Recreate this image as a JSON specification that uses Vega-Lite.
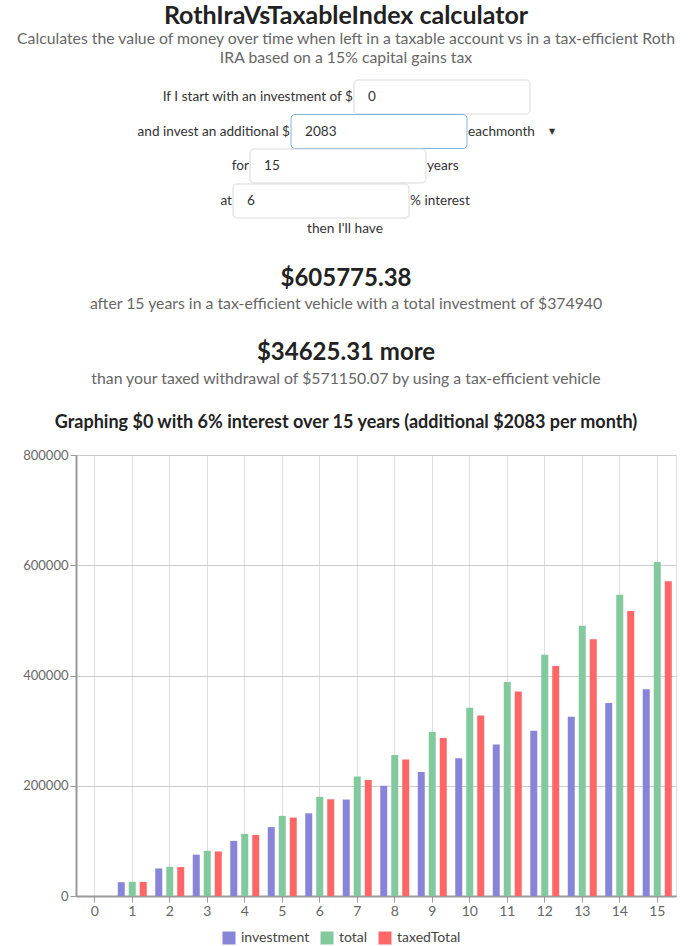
{
  "$schema": "https://vega.github.io/schema/vega-lite/v6.json",
  "width": 600,
  "height": 441,
  "autosize": "none",
  "padding": {"left": 76, "top": 455, "right": 15, "bottom": 50},
  "background": "white",
  "config": {"font": "Lato", "view": {"stroke": "#ddd"}},
  "datasets": {
    "bars": [
      {"year": 0, "series": "investment", "value": 0},
      {"year": 0, "series": "total", "value": 0},
      {"year": 0, "series": "taxedTotal", "value": 0},
      {"year": 1, "series": "investment", "value": 24996},
      {"year": 1, "series": "total", "value": 25694.97},
      {"year": 1, "series": "taxedTotal", "value": 25590.12},
      {"year": 2, "series": "investment", "value": 49992},
      {"year": 2, "series": "total", "value": 52974.77},
      {"year": 2, "series": "taxedTotal", "value": 52527.35},
      {"year": 3, "series": "investment", "value": 74988},
      {"year": 3, "series": "total", "value": 81937.10},
      {"year": 3, "series": "taxedTotal", "value": 80894.74},
      {"year": 4, "series": "investment", "value": 99984},
      {"year": 4, "series": "total", "value": 112685.79},
      {"year": 4, "series": "taxedTotal", "value": 110780.52},
      {"year": 5, "series": "investment", "value": 124980},
      {"year": 5, "series": "total", "value": 145330.99},
      {"year": 5, "series": "taxedTotal", "value": 142278.34},
      {"year": 6, "series": "investment", "value": 149976},
      {"year": 6, "series": "total", "value": 179989.65},
      {"year": 6, "series": "taxedTotal", "value": 175487.60},
      {"year": 7, "series": "investment", "value": 174972},
      {"year": 7, "series": "total", "value": 216785.99},
      {"year": 7, "series": "taxedTotal", "value": 210513.89},
      {"year": 8, "series": "investment", "value": 199968},
      {"year": 8, "series": "total", "value": 255851.85},
      {"year": 8, "series": "taxedTotal", "value": 247469.27},
      {"year": 9, "series": "investment", "value": 224964},
      {"year": 9, "series": "total", "value": 297327.21},
      {"year": 9, "series": "taxedTotal", "value": 286472.73},
      {"year": 10, "series": "investment", "value": 249960},
      {"year": 10, "series": "total", "value": 341360.67},
      {"year": 10, "series": "taxedTotal", "value": 327650.57},
      {"year": 11, "series": "investment", "value": 274956},
      {"year": 11, "series": "total", "value": 388110.02},
      {"year": 11, "series": "taxedTotal", "value": 371136.92},
      {"year": 12, "series": "investment", "value": 299952},
      {"year": 12, "series": "total", "value": 437742.78},
      {"year": 12, "series": "taxedTotal", "value": 417074.16},
      {"year": 13, "series": "investment", "value": 324948},
      {"year": 13, "series": "total", "value": 490436.77},
      {"year": 13, "series": "taxedTotal", "value": 465613.45},
      {"year": 14, "series": "investment", "value": 349944},
      {"year": 14, "series": "total", "value": 546380.86},
      {"year": 14, "series": "taxedTotal", "value": 516915.33},
      {"year": 15, "series": "investment", "value": 374940},
      {"year": 15, "series": "total", "value": 605775.38},
      {"year": 15, "series": "taxedTotal", "value": 571150.07}
    ],
    "header": [
      {"row": 1, "role": "title", "text": "RothIraVsTaxableIndex calculator"},
      {"row": 2, "role": "note", "text": "Calculates the value of money over time when left in a taxable account vs in a tax-efficient Roth"},
      {"row": 3, "role": "note", "text": "IRA based on a 15% capital gains tax"},
      {"row": 8, "role": "label", "text": "then I'll have"},
      {"row": 9, "role": "result", "text": "$605775.38"},
      {"row": 10, "role": "note", "text": "after 15 years in a tax-efficient vehicle with a total investment of $374940"},
      {"row": 11, "role": "result", "text": "$34625.31 more"},
      {"row": 12, "role": "note", "text": "than your taxed withdrawal of $571150.07 by using a tax-efficient vehicle"},
      {"row": 13, "role": "graph", "text": "Graphing $0 with 6% interest over 15 years (additional $2083 per month)"}
    ],
    "form": [
      {"row": 4, "label": "If I start with an investment of $", "value": "0", "unit": ""},
      {"row": 5, "label": "and invest an additional $", "value": "2083", "unit": "eachmonth", "caret": "▼"},
      {"row": 6, "label": "for", "value": "15", "unit": "years"},
      {"row": 7, "label": "at", "value": "6", "unit": "% interest"}
    ]
  },
  "layer": [
    {
      "data": {"name": "bars"},
      "mark": {"type": "bar"},
      "encoding": {
        "x": {
          "field": "year", "type": "ordinal",
          "scale": {"paddingInner": 0.227, "paddingOuter": 0.1135},
          "axis": {
            "title": null, "labelAngle": 0, "bandPosition": 0.5,
            "grid": true, "gridColor": "#ddd", "gridWidth": 1,
            "domainColor": "#999", "domainWidth": 2,
            "tickColor": "#999", "tickSize": 6,
            "labelColor": "#666", "labelFontSize": 14, "labelPadding": 2
          }
        },
        "xOffset": {
          "field": "series", "type": "nominal",
          "sort": ["investment", "total", "taxedTotal"],
          "scale": {"paddingInner": 0.364, "paddingOuter": 0}
        },
        "y": {
          "field": "value", "type": "quantitative",
          "scale": {"domain": [0, 800000], "nice": false},
          "axis": {
            "title": null, "values": [0, 200000, 400000, 600000, 800000], "format": "d",
            "grid": true, "gridColor": "#ccc", "gridWidth": 1,
            "domainColor": "#999", "domainWidth": 2,
            "tickColor": "#999", "tickSize": 6,
            "labelColor": "#666", "labelFontSize": 13, "labelPadding": 2
          }
        },
        "color": {
          "field": "series", "type": "nominal",
          "sort": ["investment", "total", "taxedTotal"],
          "scale": {"domain": ["investment", "total", "taxedTotal"], "range": ["#8884d8", "#82ca9d", "#ff6666"]},
          "legend": {
            "title": null, "orient": "none", "direction": "horizontal",
            "legendX": 146, "legendY": 476,
            "symbolType": "square", "symbolSize": 169, "symbolStrokeWidth": 0,
            "labelFontSize": 14, "labelColor": "#444", "labelOffset": 5, "columnPadding": 10
          }
        }
      }
    },
    {
      "data": {"name": "header"},
      "encoding": {
        "x": {"field": "row", "type": "quantitative", "axis": null,
          "scale": {"domain": [1,2,3,4,5,6,7,8,9,10,11,12,13], "range": [270,270,270,366,303,262,245,269,270,270,270,270,270]}},
        "y": {"field": "row", "type": "quantitative", "axis": null,
          "scale": {"domain": [1,2,3,4,5,6,7,8,9,10,11,12,13], "range": [-439,-416,-397,-358,-323.5,-289,-254,-226,-176,-151,-102,-76,-32]}}
      },
      "layer": [
        {"transform": [{"filter": "datum.role === 'title'"}],
         "mark": {"type": "text", "font": "Lato", "fontSize": 25, "fontWeight": "bold", "fill": "#222"},
         "encoding": {"text": {"field": "text"}}},
        {"transform": [{"filter": "datum.role === 'note'"}],
         "mark": {"type": "text", "font": "Lato", "fontSize": 15.8, "fill": "#666"},
         "encoding": {"text": {"field": "text"}}},
        {"transform": [{"filter": "datum.role === 'label'"}],
         "mark": {"type": "text", "font": "Lato", "fontSize": 13.7, "fill": "#333"},
         "encoding": {"text": {"field": "text"}}},
        {"transform": [{"filter": "datum.role === 'result'"}],
         "mark": {"type": "text", "font": "Lato", "fontSize": 24, "fontWeight": "bold", "fill": "#222"},
         "encoding": {"text": {"field": "text"}}},
        {"transform": [{"filter": "datum.role === 'graph'"}],
         "mark": {"type": "text", "font": "Lato", "fontSize": 18, "fontWeight": "bold", "fill": "#222"},
         "encoding": {"text": {"field": "text"}}}
      ]
    },
    {
      "data": {"name": "form"},
      "encoding": {
        "x": {"field": "row", "type": "quantitative", "axis": null,
          "scale": {"domain": [1,2,3,4,5,6,7,8,9,10,11,12,13], "range": [270,270,270,366,303,262,245,269,270,270,270,270,270]}},
        "y": {"field": "row", "type": "quantitative", "axis": null,
          "scale": {"domain": [1,2,3,4,5,6,7,8,9,10,11,12,13], "range": [-439,-416,-397,-358,-323.5,-289,-254,-226,-176,-151,-102,-76,-32]}}
      },
      "layer": [
        {"mark": {"type": "rect", "width": 176, "height": 34, "cornerRadius": 4, "fill": "white", "strokeWidth": 1},
         "encoding": {"stroke": {"condition": {"test": "datum.row === 5", "value": "#80b3dd"}, "value": "#d9d9d9"}}},
        {"mark": {"type": "text", "font": "Lato", "fontSize": 13.6, "fill": "#333", "align": "right", "dx": -89},
         "encoding": {"text": {"field": "label"}}},
        {"mark": {"type": "text", "font": "Lato", "fontSize": 13.6, "fill": "#333", "align": "left", "dx": -74},
         "encoding": {"text": {"field": "value"}}},
        {"mark": {"type": "text", "font": "Lato", "fontSize": 13.6, "fill": "#333", "align": "left", "dx": 89},
         "encoding": {"text": {"field": "unit"}}},
        {"transform": [{"filter": "datum.caret"}],
         "mark": {"type": "text", "font": "DejaVu Sans", "fontSize": 8, "fill": "#333", "align": "center", "dx": 173},
         "encoding": {"text": {"field": "caret"}}}
      ]
    }
  ],
  "resolve": {"scale": {"x": "independent", "y": "independent"}, "axis": {"x": "independent", "y": "independent"}}
}
